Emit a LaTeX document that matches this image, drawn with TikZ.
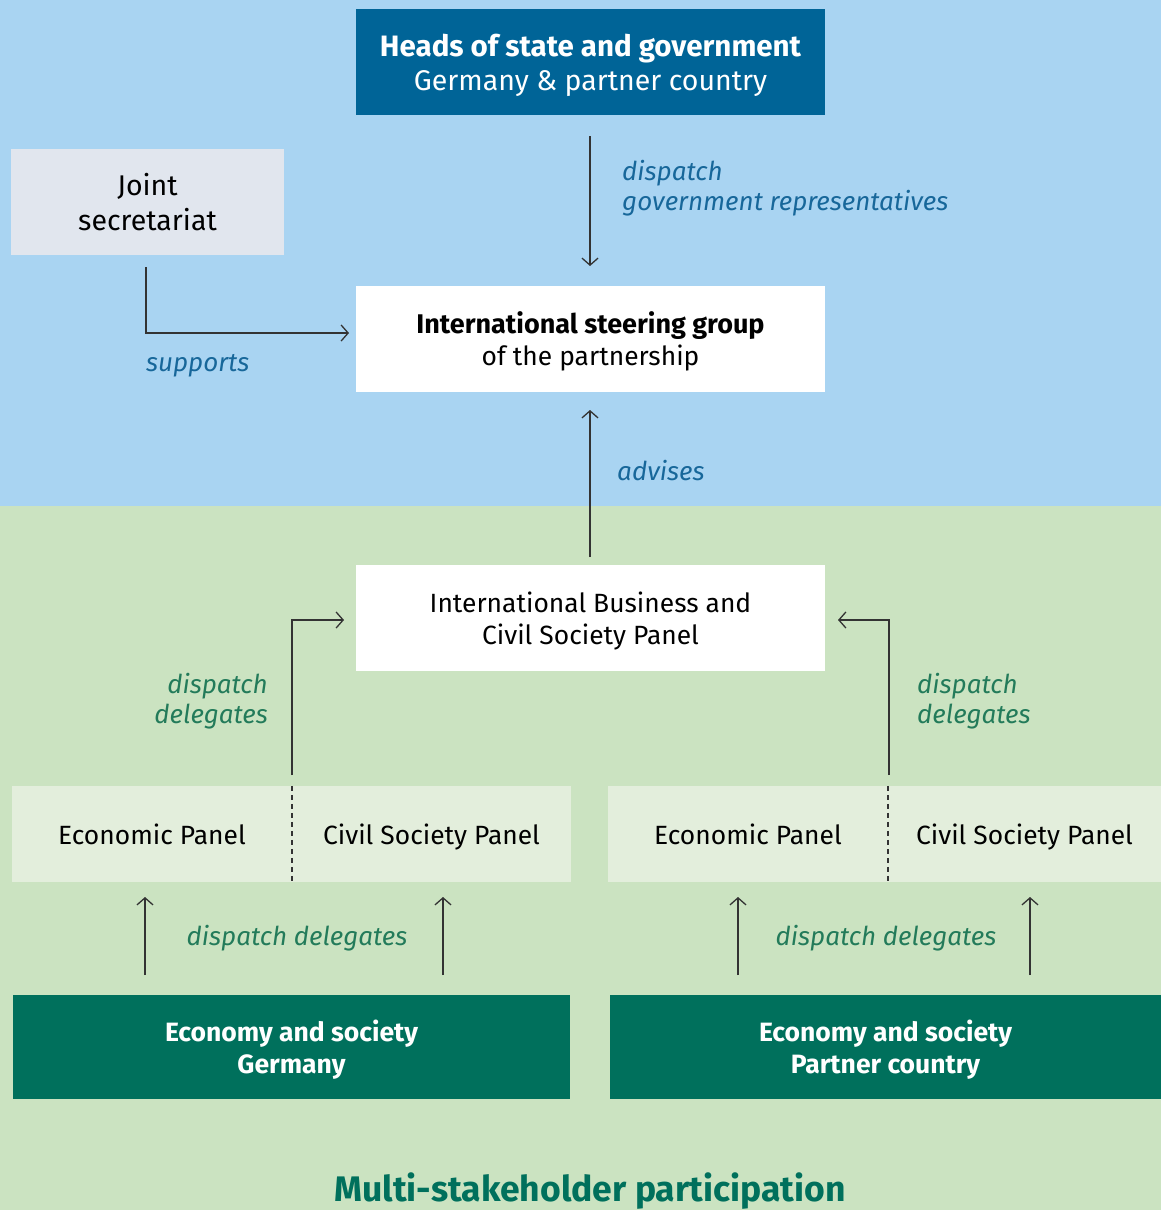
\documentclass[tikz,border=0pt]{standalone}
\usepackage{fontspec}
\setmainfont{Fira Sans}
\usetikzlibrary{arrows.meta}
\definecolor{bgblue}{HTML}{A9D4F2}
\definecolor{bggreen}{HTML}{CBE3C1}
\definecolor{darkblue}{HTML}{006497}
\definecolor{secgrey}{HTML}{E1E6EE}
\definecolor{panelgreen}{HTML}{E3EEDC}
\definecolor{darkgreen}{HTML}{00705C}
\definecolor{lblblue}{HTML}{17679A}
\definecolor{lblgreen}{HTML}{237B5A}
\definecolor{linecol}{HTML}{333333}
\tikzset{
  box/.style={inner sep=0pt},
  txt/.style={inner sep=0pt, align=center, font=\fontsize{26.4}{32}\selectfont},
  conn/.style={draw=linecol, line width=1.3pt, -{Straight Barb[length=7pt,width=16pt,line width=1.3pt]}},
  bluelbl/.style={text=lblblue, font=\fontsize{26}{30}\selectfont\itshape, inner sep=0pt},
  greenlbl/.style={text=lblgreen, font=\fontsize{26}{30}\selectfont\itshape, inner sep=0pt},
}
\begin{document}
\begin{tikzpicture}[x=1pt,y=-1pt]
\useasboundingbox (0,0) rectangle (1161,1210);
\fill[bgblue] (0,0) rectangle (1161,506);
\fill[bggreen] (0,506) rectangle (1161,1210);
% boxes
\node[box, fill=darkblue, minimum width=469pt, minimum height=106pt] (heads) at (590.5,62) {};
\node[txt, text=white, font=\fontsize{28.5}{34}\selectfont] (headsT) at ([yshift=-3pt]heads.center)
  {{\fontsize{29.5}{34}\selectfont\bfseries Heads of state and government}\\Germany \& partner country};
\node[box, fill=secgrey, minimum width=273pt, minimum height=106pt] (sec) at (147.5,202) {};
\node[txt, font=\fontsize{28.5}{35}\selectfont] (secT) at (sec.center) {Joint\\secretariat};
\node[box, fill=white, minimum width=469pt, minimum height=106pt] (isg) at (590.5,339) {};
\node[txt] (isgT) at ([yshift=-2pt]isg.center)
  {{\fontsize{27}{32}\selectfont\bfseries International steering group}\\of the partnership};
\node[box, fill=white, minimum width=469pt, minimum height=106pt] (ibc) at (590.5,618) {};
\node[txt] (ibcT) at ([yshift=-3pt]ibc.center) {International Business and\\Civil Society Panel};
% panels
\node[box, fill=panelgreen, minimum width=280pt, minimum height=96pt] (ep1) at (152,834) {};
\node[box, fill=panelgreen, minimum width=279pt, minimum height=96pt] (cs1) at (431.5,834) {};
\node[box, fill=panelgreen, minimum width=280pt, minimum height=96pt] (ep2) at (748,834) {};
\node[box, fill=panelgreen, minimum width=273pt, minimum height=96pt] (cs2) at (1024.5,834) {};
\node[txt] (ep1T) at ([yshift=-4.5pt]ep1.center) {\strut Economic Panel};
\node[txt] (cs1T) at ([yshift=-4.5pt]cs1.center) {\strut Civil Society Panel};
\node[txt] (ep2T) at ([yshift=-4.5pt]ep2.center) {\strut Economic Panel};
\node[txt] (cs2T) at ([yshift=-4.5pt]cs2.center) {\strut Civil Society Panel};
\draw[linecol, line width=1.8pt, dash pattern=on 5pt off 4pt] (ep1.north east) -- (ep1.south east);
\draw[linecol, line width=1.8pt, dash pattern=on 5pt off 4pt] (ep2.north east) -- (ep2.south east);
% economy boxes
\node[box, fill=darkgreen, minimum width=557pt, minimum height=104pt] (eg) at (291.5,1047) {};
\node[txt, text=white, font=\fontsize{26.5}{32}\selectfont\bfseries] (egT) at ([yshift=-3pt]eg.center)
  {Economy and society\\Germany};
\node[box, fill=darkgreen, minimum width=551pt, minimum height=104pt] (ep) at (885.5,1047) {};
\node[txt, text=white, font=\fontsize{26.5}{32}\selectfont\bfseries] (epT) at ([yshift=-3pt]ep.center)
  {Economy and society\\Partner country};
\node[text=darkgreen, font=\fontsize{35.5}{40}\selectfont\bfseries, inner sep=0pt] (title) at (590,1191) {Multi-stakeholder participation};
% coordinates
\coordinate (d1) at (590,136);
\coordinate (d2) at (590,266);
\coordinate (s1) at (146,267);
\coordinate (s2) at (146,333);
\coordinate (s3) at (349,333);
\coordinate (a1) at (590,557);
\coordinate (a2) at (590,410);
\coordinate (l1) at (292,775);
\coordinate (l2) at (292,620);
\coordinate (l3) at (344,620);
\coordinate (r1) at (889,775);
\coordinate (r2) at (889,620);
\coordinate (r3) at (838,620);
\coordinate (b1s) at (145,975); \coordinate (b1e) at (145,897);
\coordinate (b2s) at (443,975); \coordinate (b2e) at (443,897);
\coordinate (b3s) at (738,975); \coordinate (b3e) at (738,897);
\coordinate (b4s) at (1030,975); \coordinate (b4e) at (1030,897);
% connectors
\draw[conn] (d1) -- (d2);
\draw[conn] (s1) -- (s2) -- (s3);
\draw[conn] (a1) -- (a2);
\draw[conn] (l1) -- (l2) -- (l3);
\draw[conn] (r1) -- (r2) -- (r3);
\draw[conn] (b1s) -- (b1e);
\draw[conn] (b2s) -- (b2e);
\draw[conn] (b3s) -- (b3e);
\draw[conn] (b4s) -- (b4e);
% labels
\node[bluelbl, anchor=west, align=left] (ldisp) at (622,188) {dispatch\\government representatives};
\node[bluelbl, anchor=west] (lsup) at (146,366) {supports};
\node[bluelbl, anchor=west] (ladv) at (617,471) {advises};
\node[greenlbl, anchor=east, align=right] (ldl) at (268,701) {dispatch\\delegates};
\node[greenlbl, anchor=west, align=left] (ldr) at (917,701) {dispatch\\delegates};
\node[greenlbl] (lbl1) at (297,938) {dispatch delegates};
\node[greenlbl] (lbl2) at (886,938) {dispatch delegates};
\end{tikzpicture}
\end{document}
